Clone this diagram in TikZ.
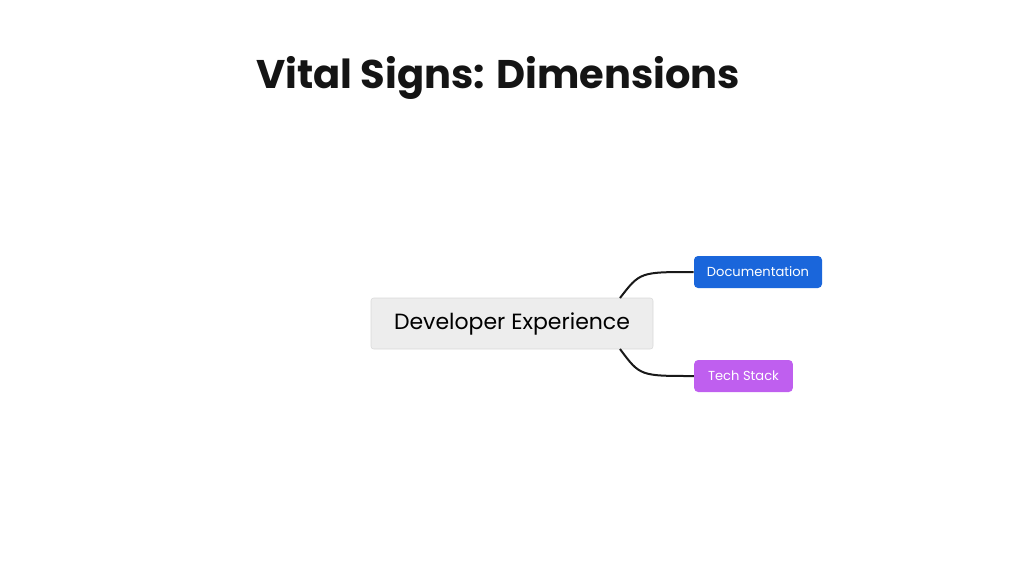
\documentclass[tikz,border=0pt]{standalone}
\usepackage{fontspec}
\setmainfont{Poppins}
\usetikzlibrary{positioning}
\definecolor{docblue}{HTML}{1A66DB}
\definecolor{techpurple}{HTML}{BF5FEF}
\definecolor{rootgray}{HTML}{EDEDED}
\begin{document}
\begin{tikzpicture}[
    x=0.75pt, y=-0.75pt,
    root/.style={rectangle, rounded corners=2pt, draw=black!15, fill=rootgray, minimum width=211.5pt, minimum height=38.25pt, font=\fontsize{16.5}{18}\selectfont},
    leaf/.style={rectangle, rounded corners=3pt, text=white, minimum height=24pt, inner xsep=0pt, font=\fontsize{9.8}{11}\selectfont},
    branch/.style={line width=1.5pt, black!90}
]
\useasboundingbox (0,0) rectangle (1024,576);
% Title
\node[font=\fontsize{30}{34}\selectfont\bfseries, text=black!92] (title) at (498,78) {Vital Signs: Dimensions};
% Root
\node[root] (dx) at (512,323.5) {Developer Experience};
% Leaves
\node[leaf, fill=docblue, minimum width=96pt] (doc) at (758,272) {Documentation};
\node[leaf, fill=techpurple, minimum width=74pt] (tech) at (743.5,376) {Tech Stack};
% Branches
\coordinate (dx-top) at (620,298);
\coordinate (dx-bot) at (620,349);
\draw[branch] (dx-top) .. controls (640,272) .. (doc.west);
\draw[branch] (dx-bot) .. controls (640,376) .. (tech.west);
\end{tikzpicture}
\end{document}
